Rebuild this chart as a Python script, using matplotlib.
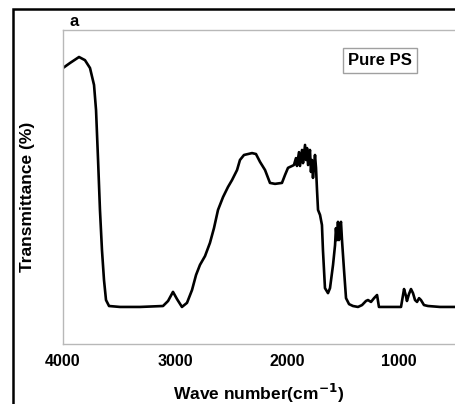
import matplotlib.pyplot as plt
from matplotlib.patches import Rectangle

plt.rcParams['font.family'] = ['Liberation Sans', 'DejaVu Sans']

# spectre FTIR du PS pur
nombre_onde = [4000, 3937, 3857, 3804, 3759, 3723, 3705, 3687, 3670, 3652,
               3634, 3616, 3589, 3491, 3312, 3107, 3062, 3018, 2982, 2938,
               2893, 2848, 2812, 2777, 2732, 2688, 2652, 2616, 2571, 2527,
               2491, 2446, 2420, 2384, 2312, 2277, 2241, 2196, 2152, 2107,
               2045, 2018, 1991, 1955, 1938, 1920, 1911, 1893, 1884, 1866,
               1857, 1839, 1830, 1821, 1812, 1795, 1786, 1777, 1768, 1750,
               1741, 1732, 1723, 1705, 1688, 1679, 1661, 1634, 1616, 1589,
               1571, 1563, 1554, 1545, 1536, 1527, 1518, 1509, 1491, 1473,
               1446, 1411, 1366, 1330, 1295, 1277, 1250, 1223, 1196, 1179,
               1080, 982, 964, 955, 938, 929, 911, 893, 875, 857,
               839, 821, 804, 777, 741, 634, 500]
transmittance = [87.9, 89.5, 91.4, 90.4, 87.9, 82.5, 74.5, 58.6, 42.7, 29.9,
                 20.4, 14.0, 12.1, 11.8, 11.8, 12.1, 13.7, 16.6, 14.3, 11.8,
                 13.1, 17.2, 22.0, 25.2, 28.0, 32.2, 36.9, 42.7, 46.8, 50.0,
                 52.2, 55.4, 58.6, 60.2, 60.8, 60.5, 58.0, 55.4, 51.3, 51.0,
                 51.3, 53.8, 56.1, 56.7, 57.0, 59.2, 56.7, 61.1, 56.7, 61.8,
                 57.6, 63.4, 58.6, 62.4, 57.0, 61.8, 54.8, 58.6, 52.9, 60.2,
                 56.1, 49.0, 42.7, 41.1, 37.9, 29.9, 17.8, 16.2, 17.8, 25.2,
                 31.5, 36.9, 33.1, 38.9, 33.1, 37.6, 38.9, 33.1, 23.6, 14.6,
                 12.7, 12.1, 11.8, 12.4, 13.7, 14.0, 13.4, 14.6, 15.6, 11.8,
                 11.8, 11.8, 15.6, 17.5, 15.3, 13.7, 15.9, 17.5, 16.2, 14.0,
                 13.4, 14.6, 14.0, 12.4, 12.1, 11.8, 11.8]
graduations = [4000, 3000, 2000, 1000]

fig = plt.figure(figsize=(4.55, 4.04), dpi=100)

# cadre noir autour de la figure
cadre = Rectangle((13/455, -0.1), 1.2, 1.1 - 9/404, transform=fig.transFigure,
                  fill=False, edgecolor='black', linewidth=1.8)
fig.patches.append(cadre)

ax = fig.add_axes([63/455, 1 - 344/404, 1 - 63/455, (344 - 30)/404])
ax.plot(nombre_onde, transmittance, color='black', linewidth=1.9)
ax.set_xlim(4000, 500)
ax.set_ylim(0, 100)
ax.set_xticks(graduations)
ax.set_xticklabels([str(g) for g in graduations], fontsize=11.5, fontweight='bold')
ax.tick_params(axis='x', length=0, pad=7)
ax.set_yticks([])
for s in ax.spines.values():
    s.set_color('#b8b8b8')
    s.set_linewidth(1.0)
ax.spines['right'].set_visible(False)

fig.text(259/455, 1 - 393/404, 'Wave number(cm$^{\\mathbf{-1}}$)', ha='center', va='center',
         fontsize=12.5, fontweight='bold')
fig.text(28/455, 1 - 197/404, 'Transmittance (%)', rotation=90, ha='center', va='center',
         fontsize=12.5, fontweight='bold')
fig.text(69/455, 1 - 21/404, 'a', ha='left', va='center', fontsize=12, fontweight='bold')
ax.text(0.809, 0.903, 'Pure PS', transform=ax.transAxes, ha='center', va='center',
        fontsize=12, fontweight='bold',
        bbox=dict(boxstyle='square,pad=0.3', facecolor='white', edgecolor='#a0a0a0', linewidth=1))

fig.savefig('out.png', dpi=100)
